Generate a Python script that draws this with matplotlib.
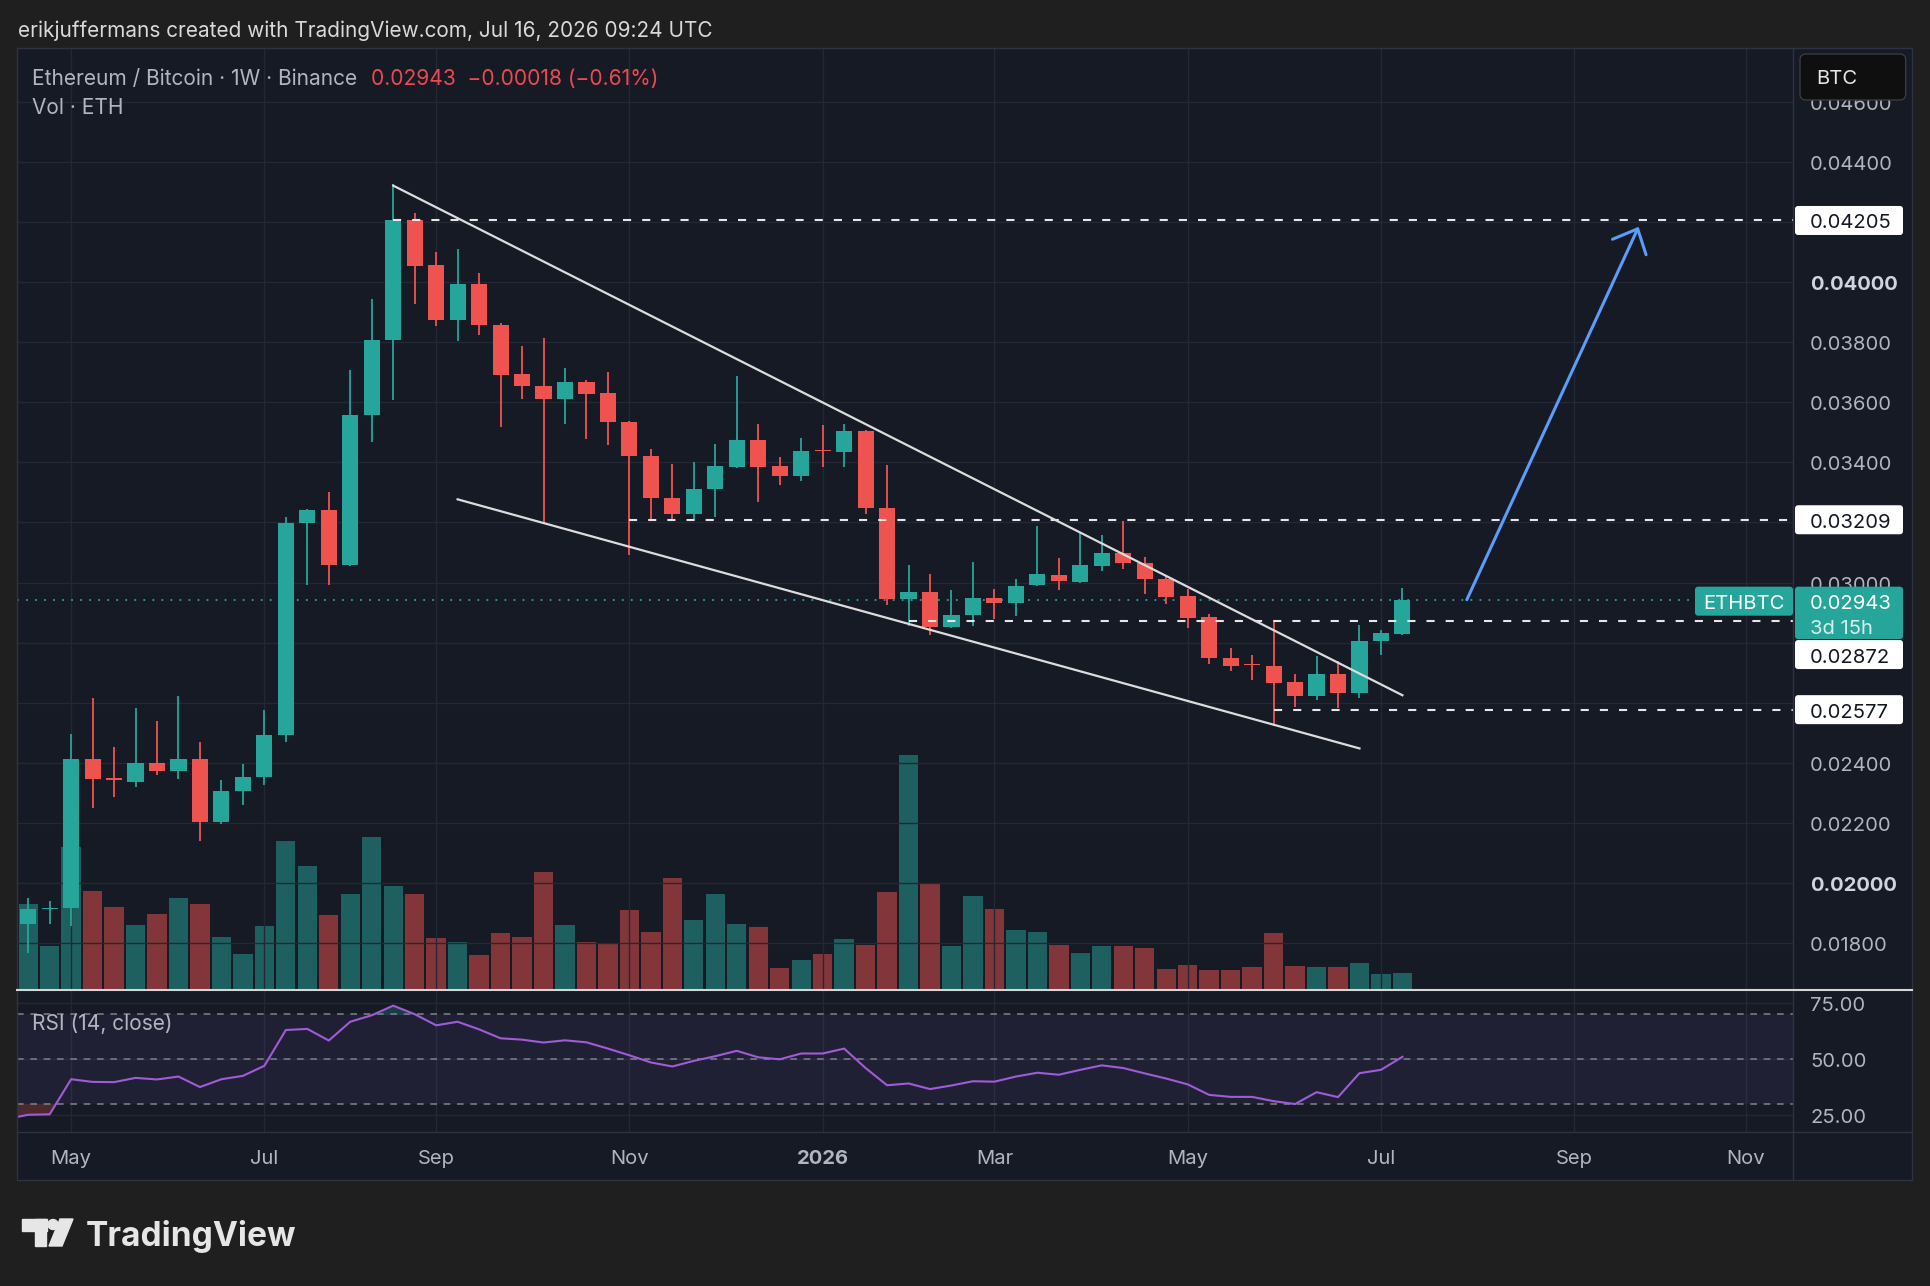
import numpy as np
import matplotlib
matplotlib.use("Agg")
import matplotlib.pyplot as plt
from matplotlib.patches import FancyBboxPatch, Rectangle, Circle, Polygon

# weekly ETH/BTC candles, bar 0 = week of 5 May 2025, last bar = week of 13 Jul 2026
bars = np.arange(-2, 63)
opens = [0.01862, 0.01914, 0.01917, 0.02414, 0.02346, 0.02337, 0.02400, 0.02372, 0.02412, 0.02204,
         0.02306, 0.02353, 0.02492, 0.03199, 0.03240, 0.03059, 0.03558, 0.03807, 0.04208, 0.04056,
         0.03873, 0.03993, 0.03858, 0.03693, 0.03654, 0.03610, 0.03668, 0.03631, 0.03535, 0.03421,
         0.03283, 0.03228, 0.03310, 0.03385, 0.03474, 0.03387, 0.03354, 0.03439, 0.03433, 0.03506,
         0.03249, 0.02946, 0.02968, 0.02852, 0.02891, 0.02949, 0.02932, 0.02991, 0.03024, 0.03002,
         0.03055, 0.03098, 0.03066, 0.03011, 0.02955, 0.02885, 0.02750, 0.02726, 0.02723, 0.02669,
         0.02623, 0.02696, 0.02634, 0.02805, 0.02830]
highs = [0.01950, 0.01939, 0.02497, 0.02616, 0.02453, 0.02582, 0.02540, 0.02622, 0.02470, 0.02343,
         0.02395, 0.02575, 0.03217, 0.03246, 0.03300, 0.03707, 0.03943, 0.04327, 0.04229, 0.04100,
         0.04111, 0.04030, 0.03864, 0.03787, 0.03814, 0.03714, 0.03673, 0.03701, 0.03538, 0.03443,
         0.03393, 0.03400, 0.03460, 0.03688, 0.03529, 0.03418, 0.03482, 0.03524, 0.03529, 0.03509,
         0.03392, 0.03059, 0.03029, 0.02976, 0.03070, 0.02980, 0.03013, 0.03187, 0.03083, 0.03166,
         0.03159, 0.03204, 0.03085, 0.03026, 0.02980, 0.02896, 0.02782, 0.02760, 0.02869, 0.02697,
         0.02755, 0.02738, 0.02860, 0.02841, 0.02982]
lows = [0.01768, 0.01862, 0.01856, 0.02249, 0.02285, 0.02320, 0.02358, 0.02346, 0.02140, 0.02196,
        0.02260, 0.02326, 0.02470, 0.02993, 0.02993, 0.03055, 0.03468, 0.03606, 0.03928, 0.03853,
        0.03803, 0.03823, 0.03517, 0.03610, 0.03197, 0.03527, 0.03477, 0.03457, 0.03091, 0.03213,
        0.03213, 0.03211, 0.03219, 0.03382, 0.03267, 0.03324, 0.03337, 0.03383, 0.03385, 0.03229,
        0.02926, 0.02855, 0.02827, 0.02848, 0.02855, 0.02878, 0.02889, 0.02988, 0.02974, 0.03000,
        0.03037, 0.03046, 0.02963, 0.02930, 0.02849, 0.02728, 0.02705, 0.02675, 0.02523, 0.02586,
        0.02608, 0.02581, 0.02617, 0.02758, 0.02824]
closes = [0.01912, 0.01916, 0.02414, 0.02345, 0.02344, 0.02400, 0.02372, 0.02412, 0.02204, 0.02307,
          0.02354, 0.02494, 0.03199, 0.03240, 0.03059, 0.03558, 0.03807, 0.04208, 0.04054, 0.03873,
          0.03993, 0.03858, 0.03692, 0.03653, 0.03610, 0.03668, 0.03628, 0.03535, 0.03421, 0.03283,
          0.03227, 0.03311, 0.03388, 0.03474, 0.03385, 0.03354, 0.03437, 0.03437, 0.03506, 0.03248,
          0.02946, 0.02968, 0.02852, 0.02893, 0.02949, 0.02933, 0.02988, 0.03027, 0.03004, 0.03057,
          0.03098, 0.03065, 0.03011, 0.02952, 0.02883, 0.02749, 0.02723, 0.02724, 0.02667, 0.02623,
          0.02696, 0.02634, 0.02806, 0.02832, 0.02943]
volumes = [857, 443, 1427, 990, 830, 653, 760, 917, 857, 533, 357, 643, 1487, 1233, 750, 960,
           1530, 1040, 953, 523, 480, 350, 567, 533, 1173, 653, 480, 463, 793, 583, 1120, 700,
           960, 663, 630, 223, 303, 357, 507, 453, 980, 2340, 1060, 443, 937, 803, 603, 577,
           453, 373, 443, 437, 420, 210, 253, 200, 200, 227, 570, 243, 233, 233, 273, 157, 173]

rsi_bars = np.arange(-3, 63)
rsi = [23.2, 25.1, 25.3, 41.0, 39.8, 39.7, 41.6, 40.9, 42.2, 37.5, 41.0, 42.5, 47.0, 63.0, 63.5,
       58.3, 66.7, 69.6, 73.9, 70.1, 65.1, 66.7, 63.3, 59.3, 58.7, 57.4, 58.4, 57.5, 54.7, 51.7,
       48.5, 46.7, 49.2, 51.3, 53.7, 50.8, 49.9, 52.5, 52.5, 54.7, 46.0, 38.3, 39.1, 36.6, 38.2,
       40.1, 39.9, 42.2, 43.9, 43.0, 45.2, 47.2, 46.0, 43.6, 41.3, 38.7, 34.0, 33.1, 33.1, 31.2,
       29.9, 35.2, 33.0, 43.7, 45.2, 51.0]

month_bars = [0, 9, 17, 26, 35, 43, 52, 61, 70, 78]
month_labels = ["May", "Jul", "Sep", "Nov", "2026", "Mar", "May", "Jul", "Sep", "Nov"]
price_ticks = [0.018, 0.020, 0.022, 0.024, 0.026, 0.028, 0.030, 0.032, 0.034, 0.036,
               0.038, 0.040, 0.042, 0.044, 0.046]
rsi_ticks = [75, 50, 25]

levels = [0.04205, 0.03209, 0.02872, 0.02577]
level_from = [15, 26, 39, 56]
last_price = 0.02943
upper_trend = ([15, 62], [0.04321, 0.02625])
lower_trend = ([18, 60], [0.03277, 0.02448])
target_arrow = ([65, 73], [0.02943, 0.04184])

# ---- layout (pixels of the 1930x1286 picture) ----
W, H = 1930, 1286
L, R, AX = 17, 1912, 1793
T, PB, RB, XB = 47.7, 990, 1132, 1180
XLIM = (-2.52, 80.19)
DY = 3  # text nudge so digits sit centred on their level

BG = "#1f1f1f"
PANE = "#161a25"
GRID = "#242834"
UP = "#26a69a"
DN = "#ef5350"
TXT = "#b2b5be"
LINE = "#2f3240"

plt.rcParams["font.family"] = ["Inter", "DejaVu Sans"]

fig = plt.figure(figsize=(W / 100, H / 100), dpi=100, facecolor=BG)


def frac(x0, y0, x1, y1):
    return [x0 / W, 1 - y1 / H, (x1 - x0) / W, (y1 - y0) / H]


def pane(x0, y0, x1, y1, z, face=PANE):
    a = fig.add_axes(frac(x0, y0, x1, y1), zorder=z)
    a.set_facecolor(face)
    for s in a.spines.values():
        s.set_visible(False)
    a.tick_params(left=False, bottom=False, labelleft=False, labelbottom=False, length=0)
    return a


base = pane(L, T, R, XB, 0)
vax = pane(L, T, AX, PB, 1)
ax = pane(L, T, AX, PB, 2, "none")
rax = pane(L, PB, AX, RB, 2)
ov = fig.add_axes([0, 0, 1, 1], zorder=5)
ov.set_xlim(0, W)
ov.set_ylim(H, 0)
ov.axis("off")

o = np.array(opens)
c = np.array(closes)
up = c >= o
cols = np.where(up, UP, DN)

# volume
vax.set_xlim(*XLIM)
vax.set_ylim(0, max(volumes) / 0.249)
vax.bar(bars, volumes, width=0.9, color=cols, alpha=0.5)

# price pane
ax.set_xlim(*XLIM)
ax.set_ylim(0.01644, 0.0478)
ax.set_xticks(month_bars)
ax.set_yticks(price_ticks)
ax.grid(color=GRID, lw=1)
ax.set_axisbelow(True)
ax.vlines(bars, lows, highs, colors=cols, lw=1.3, zorder=3)
ax.bar(bars, np.maximum(np.abs(c - o), 0.00004), bottom=np.minimum(o, c), width=0.75,
       color=cols, zorder=4)
ax.axhline(last_price, color=UP, lw=1.3, ls=(0, (1, 4)), zorder=2)
for lv, x0 in zip(levels, level_from):
    ax.plot([x0, XLIM[1]], [lv, lv], color="#e6e6e6", lw=1.5, ls=(0, (3.9, 5.3)), zorder=5)
ax.plot(*upper_trend, color="#dcdcdc", lw=1.6, zorder=6)
ax.plot(*lower_trend, color="#dcdcdc", lw=1.6, zorder=6)
ax.annotate("", xy=(target_arrow[0][1], target_arrow[1][1]),
            xytext=(target_arrow[0][0], target_arrow[1][0]),
            arrowprops=dict(arrowstyle="->,head_length=1.44,head_width=1.33", color="#5b9df9",
                            lw=2.2, shrinkA=0, shrinkB=0, mutation_scale=10), zorder=7)

# RSI pane
rax.set_xlim(*XLIM)
rax.set_ylim(17.4, 80.9)
rax.set_xticks(month_bars)
rax.set_yticks(rsi_ticks)
rax.grid(color=GRID, lw=1)
rax.set_axisbelow(True)
rax.fill_between(XLIM, 30, 70, color="#7e57c2", alpha=0.1, lw=0)
for lv in (70, 50, 30):
    rax.axhline(lv, color="#787b86", lw=1.2, ls=(0, (4, 4)))
r = np.array(rsi)
rax.fill_between(rsi_bars, r, 30, where=r < 30, interpolate=True, color=DN, alpha=0.25, lw=0)
rax.fill_between(rsi_bars, r, 70, where=r > 70, interpolate=True, color=UP, alpha=0.25, lw=0)
rax.plot(rsi_bars, rsi, color="#a05bd6", lw=1.5)

rend = fig.canvas.get_renderer()


def fit(t, width):
    w = t.get_window_extent(rend).width
    t.set_fontsize(t.get_fontsize() * width / w)
    return t.get_fontsize()


probe = ov.text(0, -50, "0.04400", fontsize=15)
fs = fit(probe, 83)
probe.remove()


def px(a, v):
    return a.transData.transform((v, 0))[0]


def py(a, v):
    return H - a.transData.transform((0, v))[1]


# time axis
for b, lab in zip(month_bars, month_labels):
    ov.text(px(ax, b), (RB + XB) / 2 + DY, lab, ha="center", va="center", fontsize=fs, color=TXT,
            weight="bold" if lab == "2026" else "normal")

# price scale tags (boxes pushed below the last-price tag when they would collide)
y_last = py(ax, last_price)
tags = [(y_last - 13, y_last + 39.4)]
for lv in levels:
    top = py(ax, lv) - 14.5
    if tags[0][0] - 29 < top < tags[0][1] + 1:
        top = tags[0][1] + 1
    tags.append((top, top + 29))
    ov.add_patch(FancyBboxPatch((1795, top), 108, 29, boxstyle="round,pad=0,rounding_size=3",
                                fc="white", ec="none", zorder=4))
    ov.text(1810, top + 14.5 + DY, f"{lv:.5f}", va="center", ha="left", fontsize=fs,
            color="#131722", zorder=5)

ov.add_patch(FancyBboxPatch((1795, y_last - 13), 108, 52.4, boxstyle="round,pad=0,rounding_size=3",
                            fc=UP, ec="none", zorder=4))
ov.text(1810, y_last + 1.5 + DY, f"{last_price:.5f}", va="center", ha="left", fontsize=fs,
        color="white", zorder=5)
ov.text(1810, y_last + 26 + DY, "3d 15h", va="center", ha="left", fontsize=fs, color="#d8f0ed", zorder=5)
ov.add_patch(FancyBboxPatch((1695, y_last - 13), 98, 29, boxstyle="round,pad=0,rounding_size=3",
                            fc=UP, ec="none", zorder=4))
ov.text(1744, y_last + 1.5 + DY, "ETHBTC", va="center", ha="center", fontsize=fs, color="white", zorder=5)

ov.add_patch(FancyBboxPatch((1800, 54), 105.7, 46, boxstyle="round,pad=0,rounding_size=6",
                            fc="#0f0f0f", ec="#3b3b3b", lw=1, zorder=4))
ov.text(1816.7, 78 + 1, "BTC", va="center", ha="left", fontsize=fs, color="#e6e6e6", zorder=5)

# price labels, skipping those hidden under a tag
for p in price_ticks:
    y = py(ax, p)
    if any(a <= y <= b for a, b in tags):
        continue
    strong = p in (0.02, 0.04)
    ov.text(1810, y + DY, f"{p:.5f}", va="center", ha="left", fontsize=fs, zorder=3,
            color="#d1d4dc" if strong else TXT, weight="bold" if strong else "normal")
for v in rsi_ticks:
    ov.text(1810, py(rax, v) + DY, f"{v:.2f}", va="center", ha="left", fontsize=fs, color=TXT, zorder=3)

# frame lines
ov.add_patch(Rectangle((L, T), R - L, XB - T, fill=False, ec=LINE, lw=1))
ov.plot([AX, AX], [T, XB], color=LINE, lw=1)
ov.plot([L, R], [RB, RB], color=LINE, lw=1)
ov.plot([L, R], [PB, PB], color="#d6d6d6", lw=1.5)

# header texts
t = ov.text(17.5, 31, "erikjuffermans created with TradingView.com, Jul 16, 2026 09:24 UTC",
            va="center", ha="left", color="#d9d9d9", fontsize=14)
fit(t, 694)
t = ov.text(32, 79, "Ethereum / Bitcoin · 1W · Binance", va="center", ha="left", color=TXT,
            fontsize=14)
hs = fit(t, 326)
ov.text(370.8, 79, "0.02943  \u22120.00018 (\u22120.61%)", va="center", ha="left",
        color="#f0484f", fontsize=hs)
ov.text(32, 108, "Vol · ETH", va="center", ha="left", color=TXT, fontsize=hs)
ov.text(32, 1023 + 1, "RSI (14, close)", va="center", ha="left", color=TXT, fontsize=hs, zorder=3)

# TradingView logo
logo = "#e6e6e6"
ov.add_patch(Rectangle((21.8, 1219), 25, 11.5, color=logo))
ov.add_patch(Rectangle((34.5, 1219), 11, 27, color=logo))
ov.add_patch(Circle((53, 1224.5), 5, color=logo))
ov.add_patch(Polygon([(60, 1219), (73, 1219), (62, 1246), (49, 1246)], color=logo))
t = ov.text(86, 1246, "TradingView", va="baseline", ha="left", color=logo, fontsize=24, weight="bold")
fit(t, 211)

fig.savefig("out.png", dpi=100, facecolor=BG)
